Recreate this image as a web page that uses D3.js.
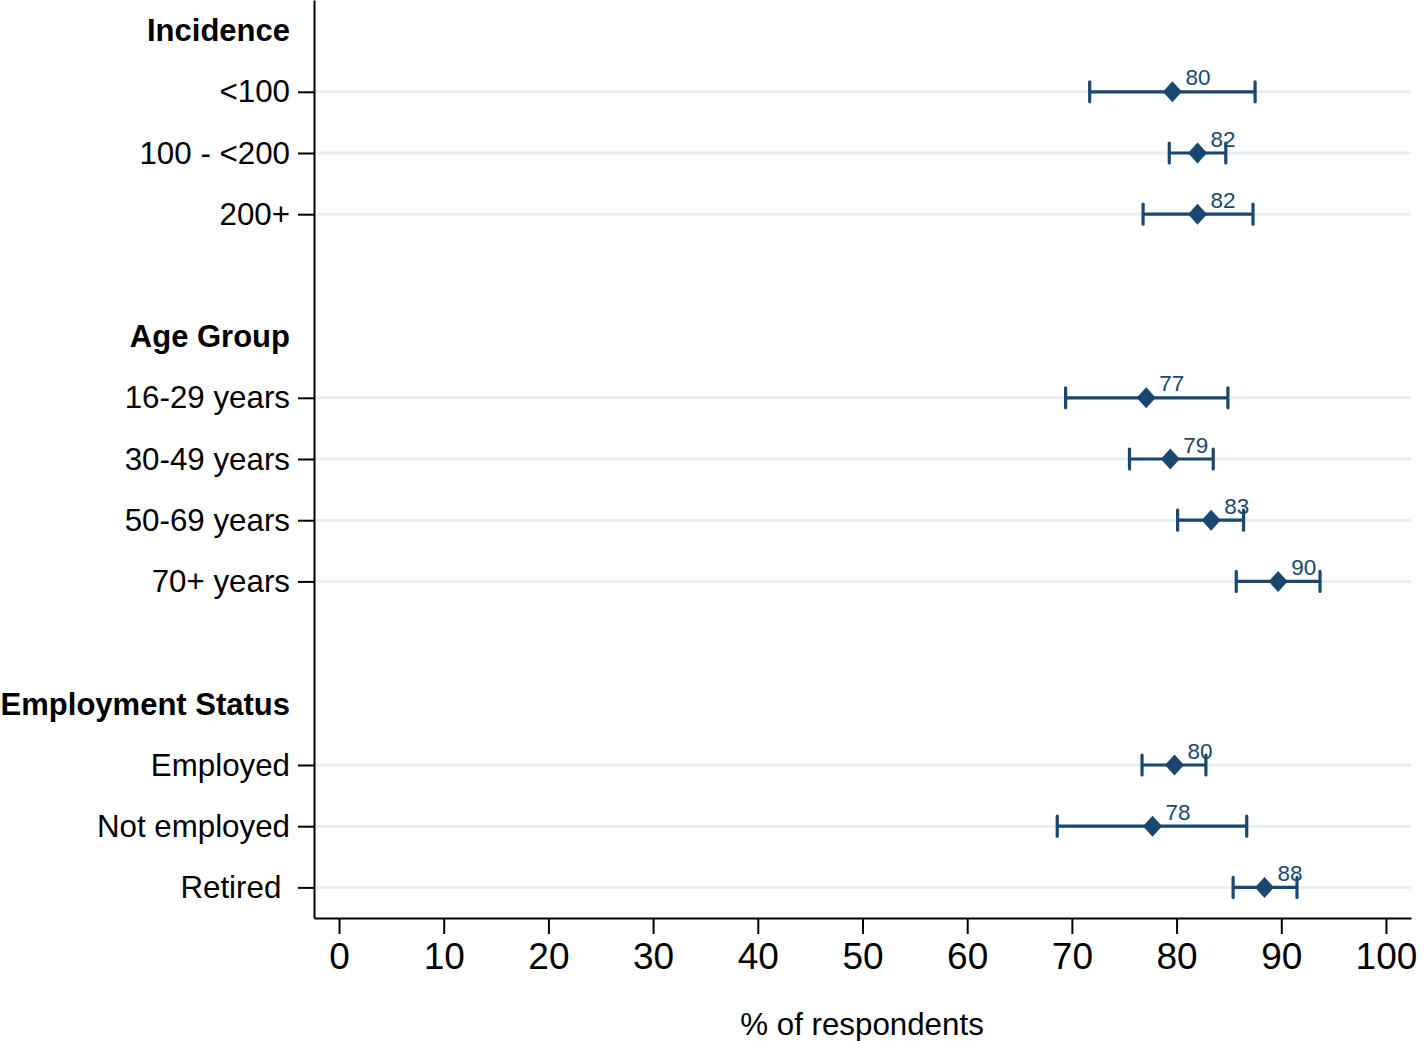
<!DOCTYPE html>
<html>
<head>
<meta charset="utf-8">
<script src="https://cdn.jsdelivr.net/npm/d3@7"></script>
<style>
  html, body { margin: 0; padding: 0; background: #fff; }
  svg { display: block; font-family: "Liberation Sans", Arial, Helvetica, sans-serif; }
</style>
</head>
<body>
<svg id="chart" width="1424" height="1041"></svg>
<script>
// ---- data ----
const rowLabels = ["Incidence", "<100", "100 - <200", "200+", "",
  "Age Group", "16-29 years", "30-49 years", "50-69 years", "70+ years", "",
  "Employment Status", "Employed", "Not employed", "Retired "];
const rowIsHeader = [true, false, false, false, false,
  true, false, false, false, false, false,
  true, false, false, false];
const estimate = [null, 79.6, 82.0, 82.0, null, null, 77.1, 79.4, 83.3, 89.7, null, null, 79.8, 77.7, 88.4];
const lowerCI  = [null, 71.7, 79.3, 76.8, null, null, 69.4, 75.5, 80.1, 85.7, null, null, 76.7, 68.6, 85.4];
const upperCI  = [null, 87.5, 84.7, 87.3, null, null, 84.9, 83.5, 86.4, 93.7, null, null, 82.8, 86.7, 91.5];
const valueLabels = [null, "80", "82", "82", null, null, "77", "79", "83", "90", null, null, "80", "78", "88"];
const xTicks = [0, 10, 20, 30, 40, 50, 60, 70, 80, 90, 100];
const xTitle = "% of respondents";

// ---- layout ----
const navy = "#1a476f";
const svg = d3.select("#chart");
const x = d3.scaleLinear().domain([-2.39, 102.39]).range([314, 1411]);
const y = d3.scaleLinear().domain([-0.5, 14.5]).range([0, 918]);

const items = rowLabels.map((l, i) => i).filter(i => estimate[i] !== null);
const headers = rowLabels.map((l, i) => i).filter(i => rowIsHeader[i]);

// gridlines
svg.append("g").selectAll("line").data(items).join("line")
  .attr("x1", 314).attr("x2", 1411)
  .attr("y1", i => y(i)).attr("y2", i => y(i))
  .attr("stroke", "#e8eff2").attr("stroke-width", 3);

// x axis
const xAxis = svg.append("g").attr("transform", "translate(0,918)")
  .call(d3.axisBottom(x).tickValues(xTicks).tickSize(16).tickSizeOuter(0).tickPadding(9));
xAxis.select(".domain").attr("stroke", "#000").attr("stroke-width", 2);
xAxis.selectAll(".tick line").attr("stroke", "#000").attr("stroke-width", 2);
xAxis.selectAll(".tick text").attr("font-size", 37).attr("fill", "#000")
  .attr("font-family", "Liberation Sans, Arial, sans-serif");

// y axis
const yAxis = svg.append("g").attr("transform", "translate(314,0)")
  .call(d3.axisLeft(y).tickValues(items).tickFormat(i => rowLabels[i]).tickSize(16).tickSizeOuter(0).tickPadding(8));
yAxis.select(".domain").attr("stroke", "#000").attr("stroke-width", 2);
yAxis.selectAll(".tick line").attr("stroke", "#000").attr("stroke-width", 2);
yAxis.selectAll(".tick text").attr("font-size", 31.3).attr("fill", "#000")
  .attr("font-family", "Liberation Sans, Arial, sans-serif")
  .style("white-space", "pre");

// headers
svg.append("g").selectAll("text").data(headers).join("text")
  .attr("x", 290).attr("y", i => y(i)).attr("dy", "0.35em")
  .attr("text-anchor", "end").attr("font-size", 31).attr("font-weight", "bold")
  .text(i => rowLabels[i]);

// error bars
const eb = svg.append("g").attr("stroke", navy).attr("stroke-width", 3.2);
eb.selectAll("line.ci").data(items).join("line").attr("class", "ci")
  .attr("x1", i => x(lowerCI[i])).attr("x2", i => x(upperCI[i]))
  .attr("y1", i => y(i)).attr("y2", i => y(i));
eb.selectAll("line.capl").data(items).join("line").attr("class", "capl")
  .attr("x1", i => x(lowerCI[i])).attr("x2", i => x(lowerCI[i]))
  .attr("y1", i => y(i) - 10).attr("y2", i => y(i) + 10).attr("stroke-linecap", "round");
eb.selectAll("line.capr").data(items).join("line").attr("class", "capr")
  .attr("x1", i => x(upperCI[i])).attr("x2", i => x(upperCI[i]))
  .attr("y1", i => y(i) - 10).attr("y2", i => y(i) + 10).attr("stroke-linecap", "round");

// diamonds
svg.append("g").selectAll("path").data(items).join("path")
  .attr("transform", i => `translate(${x(estimate[i])},${y(i)})`)
  .attr("d", "M0,-10.5L9.5,0L0,10.5L-9.5,0Z")
  .attr("fill", navy);

// value labels
svg.append("g").selectAll("text").data(items).join("text")
  .attr("x", i => x(estimate[i]) + 13).attr("y", i => y(i) - 6.5)
  .attr("font-size", 22.5).attr("fill", navy)
  .text(i => valueLabels[i]);

// x title
svg.append("text").attr("x", 862).attr("y", 1035).attr("text-anchor", "middle")
  .attr("font-size", 31.3).attr("fill", "#000").text(xTitle);
</script>
</body>
</html>
